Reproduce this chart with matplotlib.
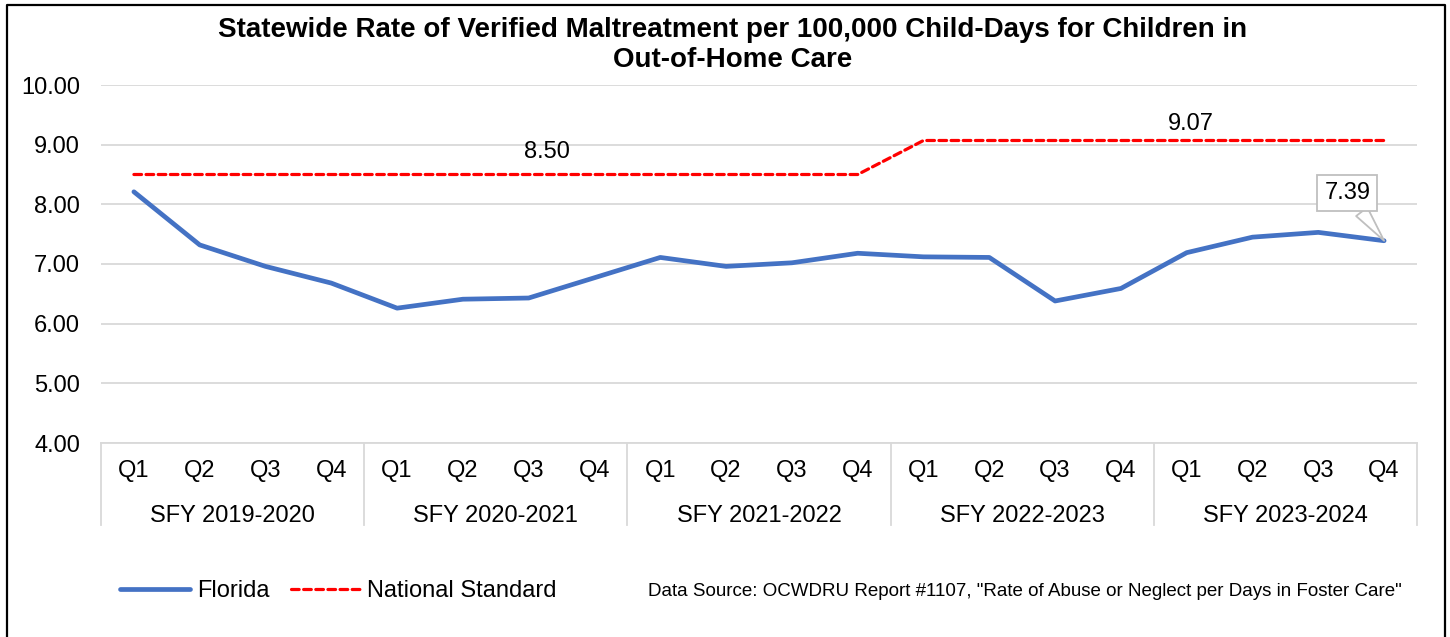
import matplotlib
matplotlib.use('Agg')
import matplotlib.pyplot as plt
from matplotlib.lines import Line2D
import matplotlib.transforms as mtransforms


# Data
years = ['SFY 2019-2020', 'SFY 2020-2021', 'SFY 2021-2022', 'SFY 2022-2023', 'SFY 2023-2024']
quarters = ['Q1', 'Q2', 'Q3', 'Q4']
florida = [8.21, 7.32, 6.96, 6.68,
           6.26, 6.41, 6.43, 6.77,
           7.11, 6.96, 7.02, 7.18,
           7.12, 7.11, 6.38, 6.59,
           7.19, 7.45, 7.53, 7.39]
national = [8.50] * 12 + [9.07] * 8
y_ticks = [4, 5, 6, 7, 8, 9, 10]

title = 'Statewide Rate of Verified Maltreatment per 100,000 Child-Days for Children in\nOut-of-Home Care'
source = 'Data Source: OCWDRU Report #1107, "Rate of Abuse or Neglect per Days in Foster Care"'

plt.rcParams['font.family'] = ['Liberation Sans', 'DejaVu Sans']

W, H = 1450, 637
fig = plt.figure(figsize=(W / 100, H / 100), dpi=100)
ax = fig.add_axes([101 / W, 1 - 443 / H, (1417 - 101) / W, (443 - 85) / H])

x = list(range(len(florida)))
blue = '#4472C4'
red = '#ff0000'
grid = '#d9d9d9'
fs = 17

ax.plot(x, national, color=red, lw=2.3, linestyle=(0, (2.4, 1.4)),
        dash_capstyle='round', zorder=3)
ax.plot(x, florida, color=blue, lw=3.4, solid_capstyle='round',
        solid_joinstyle='round', zorder=4)

# Axes formatting
ax.set_xlim(-0.5, len(florida) - 0.5)
ax.set_ylim(4, 10)
ax.set_yticks(y_ticks)
ax.set_yticklabels([f'{v:.2f}' for v in y_ticks], fontsize=fs)
ax.set_xticks(x)
ax.set_xticklabels(quarters * len(years), fontsize=fs)
ax.tick_params(axis='x', length=0, pad=12)
ax.tick_params(axis='y', length=0, pad=15)
ax.grid(axis='y', color=grid, lw=1.3)
ax.set_axisbelow(True)
for s in ['top', 'right', 'left']:
    ax.spines[s].set_visible(False)
ax.spines['bottom'].set_color(grid)
ax.spines['bottom'].set_linewidth(1.3)

# Year groups under the quarters
trans = mtransforms.blended_transform_factory(ax.transData, ax.transAxes)
for i, yr in enumerate(years):
    ax.text(i * 4 + 1.5, -0.205, yr, transform=trans, ha='center', va='center', fontsize=fs)
for b in range(len(years) + 1):
    ax.plot([b * 4 - 0.5] * 2, [0, -0.229], transform=trans, color=grid, lw=1.3, clip_on=False)

# Data labels
ax.text(6.27, 8.88, '8.50', ha='center', va='center', fontsize=fs)
ax.text(16.06, 9.35, '9.07', ha='center', va='center', fontsize=fs)
ax.annotate('7.39', xy=(19, 7.39), xytext=(18.44, 8.19), ha='center', va='center', fontsize=fs,
            bbox=dict(boxstyle='square,pad=0.3', fc='white', ec='#bfbfbf', lw=1.3),
            arrowprops=dict(arrowstyle='wedge,tail_width=0.6,shrink_factor=0.5', fc='white',
                            ec='#bfbfbf', lw=1.3, shrinkA=0, shrinkB=0),
            zorder=6)

# Title
fig.text(733 / W, 1 - 45 / H, title, ha='center', va='center', fontsize=20,
         fontweight='bold', linespacing=1.2)

# Legend
handles = [Line2D([], [], color=blue, lw=3.4, solid_capstyle='round'),
           Line2D([], [], color=red, lw=2.3, linestyle=(0, (2.4, 1.4)), dash_capstyle='round')]
fig.legend(handles, ['Florida', 'National Standard'], loc='center left',
           bbox_to_anchor=(99 / W, 1 - 591 / H), ncol=2, frameon=False, fontsize=fs,
           handlelength=2.95, handletextpad=0.3, columnspacing=0.9)
fig.text(648 / W, 1 - 591 / H, source, ha='left', va='center', fontsize=13.5)

# Border around the whole chart (open at the bottom)
fig.add_artist(Line2D([7 / W, 7 / W, 1445 / W, 1445 / W], [0, 1 - 5 / H, 1 - 5 / H, 0],
                      transform=fig.transFigure, color='black', lw=1.6))

fig.savefig('out.png', dpi=100)
